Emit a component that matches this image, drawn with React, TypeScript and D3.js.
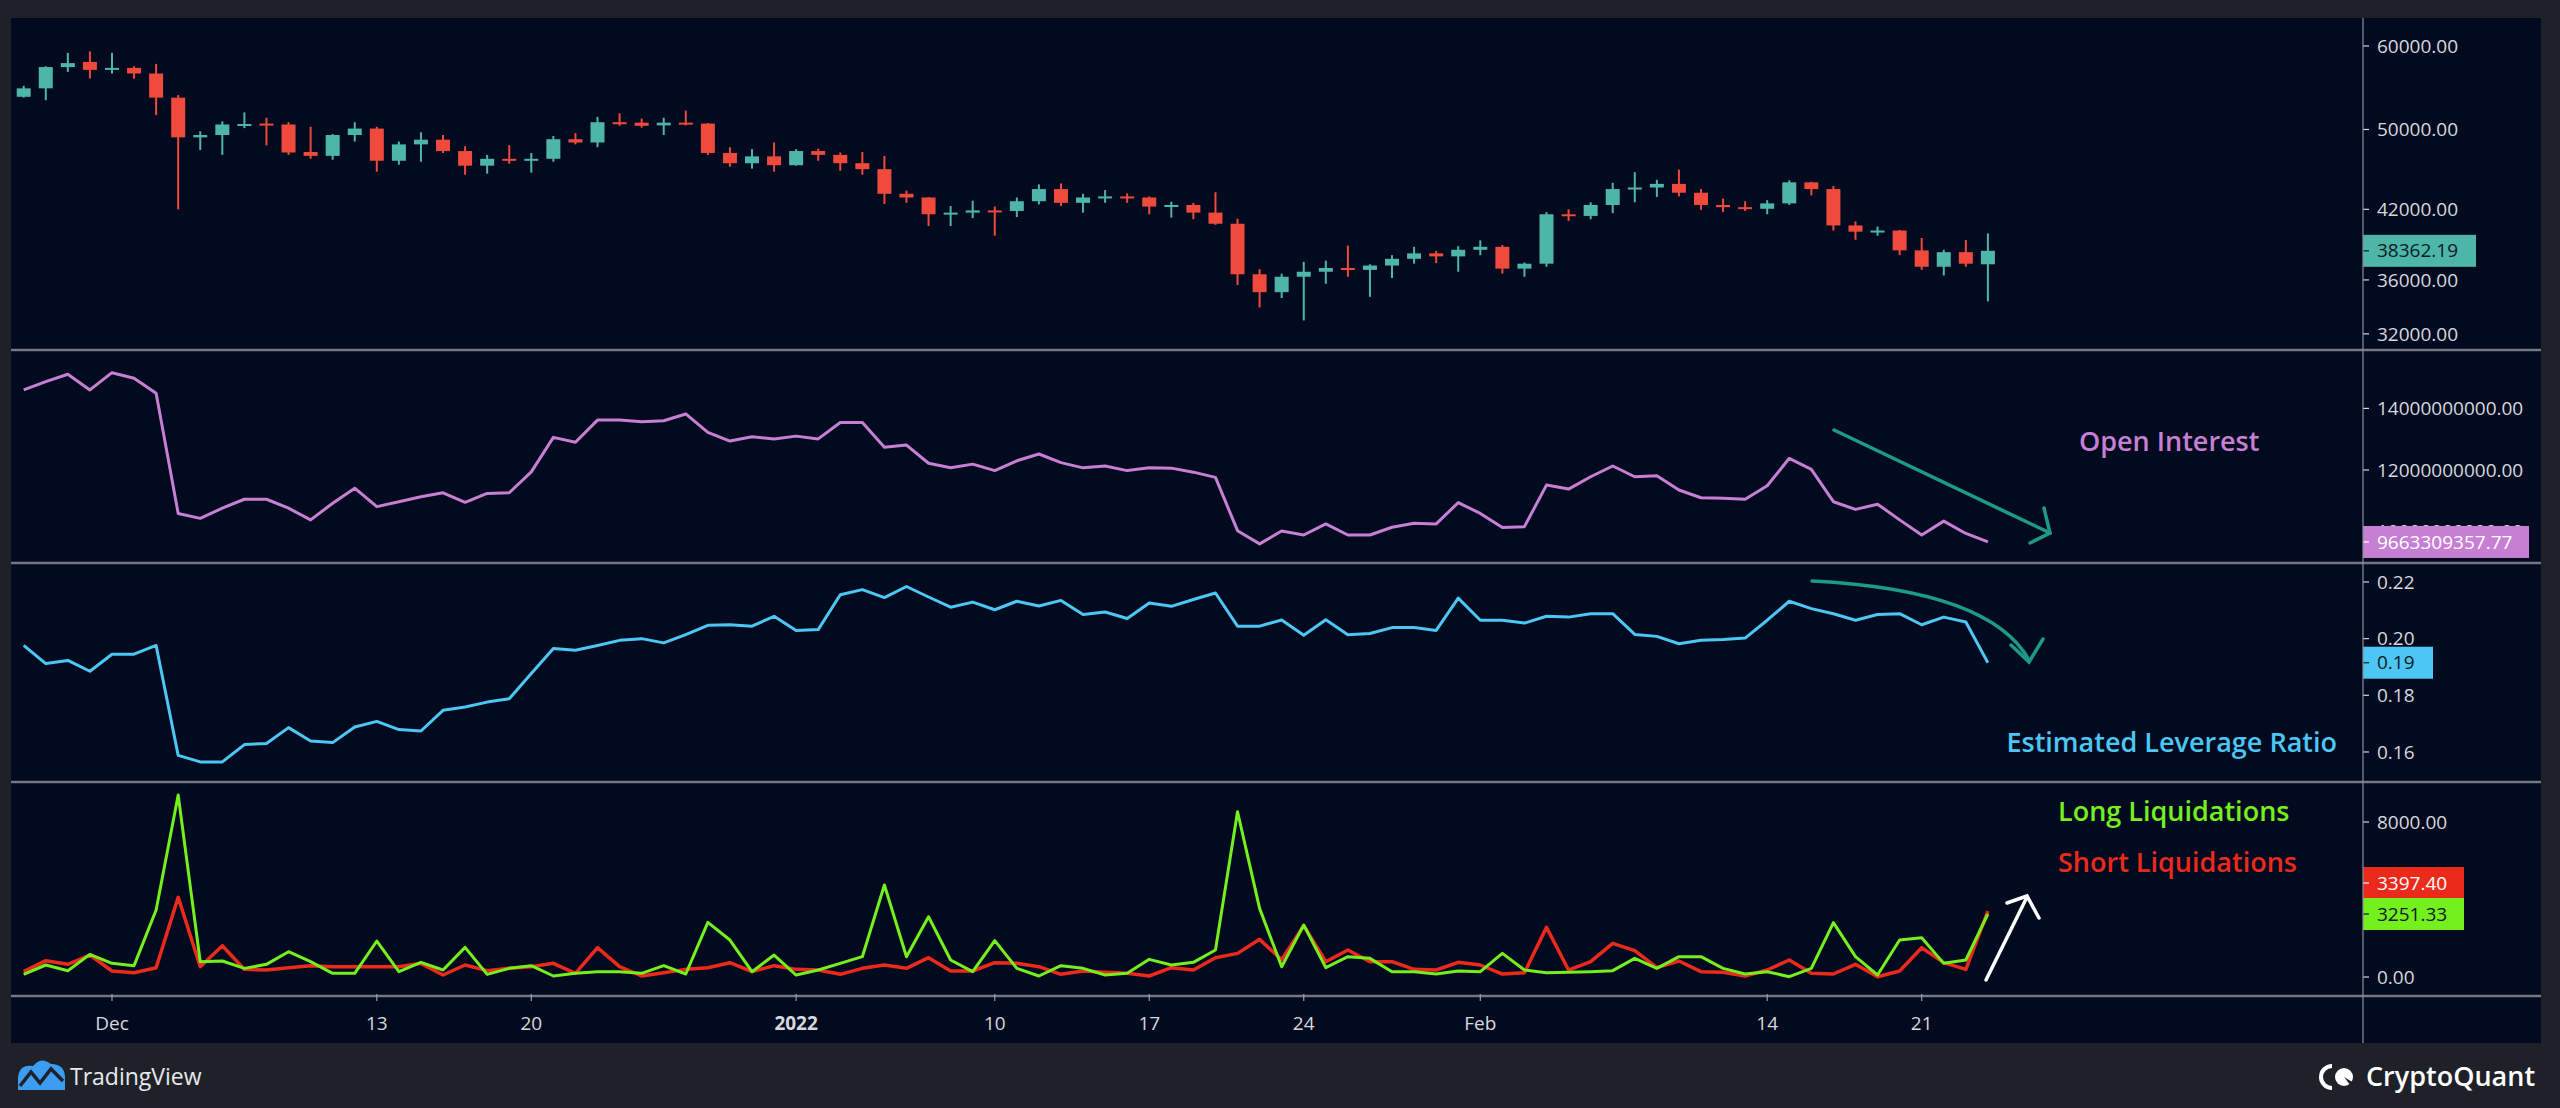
import * as d3 from "d3";
import { useEffect } from "react";

// daily bars, 27 Nov 2021 .. 24 Feb 2022
const firstDay = new Date(Date.UTC(2021, 10, 27));
const days = d3.utcDay.range(firstDay, d3.utcDay.offset(firstDay, 90));

const opens = [
  53700, 54700, 57300, 57950, 56950, 57200, 56500, 53600, 49150, 49400,
  50500, 50650, 50550, 47600, 47200, 49400, 50100, 46700, 48400, 48900,
  47700, 46200, 46900, 46700, 46900, 48950, 48600, 50800, 50750, 50450,
  50750, 50650, 47500, 46450, 47150, 46250, 47700, 47300, 46450, 45850,
  43450, 43100, 41550, 41700, 41900, 41850, 42750, 43900, 42600, 43100,
  43200, 43100, 42250, 42400, 41700, 40700, 36450, 35050, 36250, 36650,
  36950, 36800, 37150, 37700, 38150, 37900, 38450, 38700, 36900, 37300,
  41550, 41400, 42400, 43950, 44050, 44400, 43550, 42400, 42200, 42050,
  42550, 44550, 43900, 40550, 40000, 40100, 38400, 37050, 38250, 37250
];
const highs = [
  55000, 57400, 59100, 59300, 59100, 57400, 57700, 53900, 49800, 50900,
  51900, 51300, 50800, 50300, 49500, 50800, 50300, 48700, 49700, 49400,
  48200, 47300, 48300, 47500, 49300, 49600, 51400, 51800, 51200, 51300,
  52100, 50700, 48100, 47900, 48600, 47900, 47950, 47550, 47600, 47200,
  43750, 43150, 42300, 42800, 42250, 43100, 44350, 44450, 43450, 43800,
  43500, 43200, 42700, 42600, 43600, 41150, 36850, 36500, 37450, 37550,
  38800, 37250, 38000, 38700, 38350, 38750, 39250, 38850, 37400, 41750,
  42000, 42650, 44500, 45550, 44800, 45800, 43900, 43000, 42750, 42850,
  44750, 44600, 44200, 40900, 40450, 40150, 39450, 38450, 39280, 39850
];
const lows = [
  53600, 53300, 56700, 55900, 56500, 55850, 51600, 42000, 47800, 47300,
  50150, 48300, 47300, 46900, 46800, 48700, 45600, 46300, 46600, 47500,
  45300, 45400, 46400, 45500, 46600, 48400, 48100, 50400, 50200, 49400,
  50450, 47300, 46100, 45900, 45600, 46200, 46700, 45700, 45300, 42500,
  42600, 40500, 40500, 41200, 39650, 41300, 42450, 42300, 41700, 42600,
  42600, 41550, 41250, 41100, 40600, 35600, 33900, 34600, 32950, 35700,
  36250, 34700, 36150, 37300, 37350, 36650, 38000, 36500, 36250, 37050,
  40950, 41100, 41650, 42650, 43150, 43200, 41950, 41750, 41850, 41550,
  42400, 43300, 40100, 39300, 39650, 38000, 36800, 36350, 37050, 34350
];
const closes = [
  54700, 57300, 57800, 56950, 57200, 56500, 53600, 49150, 49400, 50550,
  50600, 50550, 47550, 47200, 49400, 50100, 46700, 48400, 48900, 47700,
  46200, 46900, 46700, 46900, 48950, 48600, 50800, 50700, 50400, 50750,
  50650, 47500, 46450, 47150, 46250, 47700, 47300, 46450, 45850, 43450,
  43100, 41550, 41700, 41900, 41850, 42750, 43900, 42600, 43100, 43200,
  43100, 42250, 42400, 41700, 40700, 36450, 35050, 36250, 36650, 36950,
  36800, 37150, 37700, 38150, 37900, 38450, 38700, 36900, 37300, 41550,
  41400, 42400, 43900, 44050, 44400, 43550, 42400, 42200, 42050, 42550,
  44550, 43900, 40550, 40000, 40100, 38400, 37050, 38250, 37300, 38362.19
];

// open interest, billions USD
const openInterest = [
  14.6, 14.87, 15.11, 14.6, 15.16, 14.98, 14.49, 10.59, 10.43, 10.76,
  11.05, 11.05, 10.76, 10.38, 10.92, 11.41, 10.81, 10.97, 11.13, 11.26,
  10.95, 11.24, 11.26, 11.94, 13.06, 12.9, 13.62, 13.62, 13.57, 13.6,
  13.82, 13.22, 12.94, 13.08, 13.01, 13.1, 13.01, 13.54, 13.54, 12.74,
  12.81, 12.22, 12.07, 12.19, 11.98, 12.3, 12.52, 12.24, 12.07, 12.13,
  11.98, 12.07, 12.06, 11.93, 11.76, 10.03, 9.6, 10.02, 9.89, 10.25,
  9.89, 9.89, 10.14, 10.27, 10.25, 10.94, 10.59, 10.13, 10.16, 11.51,
  11.38, 11.78, 12.13, 11.78, 11.81, 11.35, 11.1, 11.08, 11.05, 11.49,
  12.38, 12.02, 10.97, 10.72, 10.89, 10.38, 9.89, 10.34, 9.94, 9.66330935777
];

const leverageRatio = [
  0.1976, 0.1912, 0.1923, 0.1885, 0.1945, 0.1945, 0.1976, 0.1588, 0.1565, 0.1565,
  0.1626, 0.163, 0.1686, 0.1639, 0.1633, 0.1688, 0.1708, 0.1679, 0.1674, 0.1747,
  0.1759, 0.1776, 0.1788, 0.1877, 0.1965, 0.1959, 0.1976, 0.1994, 0.2, 0.1985,
  0.2014, 0.2047, 0.2049, 0.2044, 0.2079, 0.2029, 0.2032, 0.2155, 0.2173, 0.2145,
  0.2184, 0.2147, 0.2111, 0.2129, 0.2102, 0.2132, 0.2115, 0.2135, 0.2085, 0.2094,
  0.2071, 0.2126, 0.2114, 0.2138, 0.2161, 0.2044, 0.2044, 0.2066, 0.2012, 0.2067,
  0.2014, 0.2018, 0.2039, 0.2039, 0.2029, 0.2143, 0.2065, 0.2065, 0.2055, 0.2079,
  0.2076, 0.2088, 0.2088, 0.2015, 0.2008, 0.1982, 0.1994, 0.1997, 0.2002, 0.2065,
  0.2132, 0.2106, 0.2088, 0.2065, 0.2085, 0.2088, 0.2049, 0.2076, 0.2059, 0.1915
];

const longLiquidations = [
  138, 620, 327, 1170, 705, 585, 3457, 9390, 791, 826,
  447, 654, 1307, 791, 189, 189, 1858, 275, 757, 361,
  1531, 138, 447, 585, 52, 189, 275, 275, 189, 585,
  155, 2822, 1909, 275, 1135, 103, 361, 705, 1049, 4747,
  1049, 3113, 877, 275, 1875, 447, 52, 585, 447, 103,
  189, 912, 620, 757, 1393, 8530, 3543, 530, 2683, 482,
  1049, 963, 275, 275, 155, 310, 275, 1221, 361, 224,
  241, 275, 327, 963, 447, 1049, 1049, 447, 155, 275,
  17, 447, 2804, 1049, 103, 1909, 2030, 705, 877, 3251.33
];
const shortLiquidations = [
  275, 843, 654, 1135, 310, 224, 482, 4112, 533, 1617,
  395, 361, 482, 585, 533, 533, 533, 533, 705, 103,
  620, 327, 447, 533, 705, 189, 1514, 533, 52, 224,
  395, 482, 740, 275, 585, 395, 361, 138, 447, 620,
  447, 998, 310, 310, 740, 705, 533, 138, 310, 241,
  189, 52, 482, 361, 998, 1221, 1944, 895, 2650, 791,
  1393, 791, 791, 395, 361, 757, 620, 155, 224, 2563,
  361, 791, 1737, 1359, 482, 826, 275, 241, 52, 361,
  877, 189, 155, 654, 17, 310, 1514, 740, 395, 3397.4
];

const priceTicks = [60000, 50000, 42000, 36000, 32000];
const openInterestTicks = [14, 12, 10];
const leverageTicks = [0.22, 0.2, 0.18, 0.16];
const liquidationTicks = [8000, 0];
const timeTicks: [string, string][] = [
  ["2021-12-01", "Dec"],
  ["2021-12-13", "13"],
  ["2021-12-20", "20"],
  ["2022-01-01", "2022"],
  ["2022-01-10", "10"],
  ["2022-01-17", "17"],
  ["2022-01-24", "24"],
  ["2022-02-01", "Feb"],
  ["2022-02-14", "14"],
  ["2022-02-21", "21"]
];

const W = 2560;
const H = 1108;
const plotLeft = 11;
const plotRight = 2541;
const axisX = 2363;
const pricePane = [18, 350];
const oiPane = [350, 563];
const levPane = [563, 782];
const liqPane = [782, 996];
const timeBottom = 1043;

const frame = "#1f2129";
const navy = "#020a1f";
const sep = "#737785";
const axisText = "#d6d8de";
const up = "#4db6a9";
const down = "#ef4a3b";
const purple = "#c77fd3";
const cyan = "#4cc6f2";
const green = "#74f01e";
const red = "#ec2a1c";
const arrowTeal = "#1c9a86";
const font = "'Open Sans', 'DejaVu Sans', sans-serif";

const x = d3.scaleUtc().domain([days[0], days[days.length - 1]]).range([23.7, 1987.9]);
const yPrice = d3.scaleLog().domain([30893, 63780]).range([pricePane[1], pricePane[0]]);
const yOI = d3.scaleLinear().domain([8.98, 15.864]).range([563, 351]);
const yLev = d3.scaleLinear().domain([0.1494, 0.2267]).range([782, 563]);
const yLiq = d3.scaleLinear().domain([-980, 10065]).range([996, 782]);

const fmt2 = d3.format(".2f");

function seriesPath(values: number[], y: (v: number) => number): string {
  return (
    d3
      .line<number>()
      .x((_, i) => x(days[i]))
      .y((v) => y(v))(values) ?? ""
  );
}

function AxisTicks({
  ticks,
  y,
  label
}: {
  ticks: number[];
  y: (v: number) => number;
  label: (v: number) => string;
}) {
  return (
    <g>
      {ticks.map((t) => (
        <g key={t}>
          <line x1={axisX} x2={axisX + 6} y1={y(t)} y2={y(t)} stroke={axisText} strokeWidth={1.2} />
          <text
            x={axisX + 14}
            y={y(t)}
            dy="0.35em"
            fill={axisText}
            fontSize={19}
            fontFamily={font}
          >
            {label(t)}
          </text>
        </g>
      ))}
    </g>
  );
}

function ValueTag({
  y,
  width,
  bg,
  color,
  text
}: {
  y: number;
  width: number;
  bg: string;
  color: string;
  text: string;
}) {
  return (
    <g>
      <rect x={axisX} y={y - 16} width={width} height={32} fill={bg} />
      <line x1={axisX} x2={axisX + 6} y1={y} y2={y} stroke={color} strokeWidth={1.2} />
      <text x={axisX + 14} y={y} dy="0.35em" fill={color} fontSize={19} fontFamily={font}>
        {text}
      </text>
    </g>
  );
}

function Candles() {
  const bodyW = 14;
  return (
    <g>
      {days.map((d, i) => {
        const cx = x(d);
        const o = opens[i];
        const c = closes[i];
        const col = c >= o ? up : down;
        const top = yPrice(Math.max(o, c));
        const bot = yPrice(Math.min(o, c));
        return (
          <g key={i}>
            <line x1={cx} x2={cx} y1={yPrice(highs[i])} y2={yPrice(lows[i])} stroke={col} strokeWidth={2} />
            <rect x={cx - bodyW / 2} y={top} width={bodyW} height={Math.max(2, bot - top)} fill={col} />
          </g>
        );
      })}
    </g>
  );
}

export default function App() {
  useEffect(() => {
    document.body.style.margin = "0";
  }, []);

  const lastLong = longLiquidations[longLiquidations.length - 1];
  const lastShort = shortLiquidations[shortLiquidations.length - 1];
  const greenTagY = yLiq(lastLong);
  const lastOI = openInterest[openInterest.length - 1];

  return (
    <div style={{ position: "absolute", left: 0, top: 0 }}>
      <svg width={W} height={H} viewBox={`0 0 ${W} ${H}`} style={{ display: "block" }}>
        <defs>
          <clipPath id="oi-hidden">
            <rect x={axisX} y={oiPane[0]} width={plotRight - axisX} height={yOI(lastOI) - 16 - oiPane[0]} />
          </clipPath>
        </defs>
        <rect x={0} y={0} width={W} height={H} fill={frame} />
        <rect x={plotLeft} y={pricePane[0]} width={plotRight - plotLeft} height={timeBottom - pricePane[0]} fill={navy} />

        {/* price pane */}
        <Candles />
        <AxisTicks ticks={priceTicks} y={yPrice} label={fmt2} />
        <ValueTag y={yPrice(closes[closes.length - 1])} width={113} bg={up} color="#0c1a24" text={fmt2(closes[closes.length - 1])} />

        {/* open interest pane */}
        <path d={seriesPath(openInterest, yOI)} fill="none" stroke={purple} strokeWidth={3} strokeLinejoin="round" />
        <g clipPath="url(#oi-hidden)">
          <AxisTicks ticks={openInterestTicks} y={yOI} label={(v) => (v * 1e9).toFixed(2)} />
        </g>
        <ValueTag y={yOI(lastOI)} width={166} bg={purple} color="#ffffff" text={(lastOI * 1e9).toFixed(2)} />
        <text x={2079} y={442} dy="0.35em" fill={purple} fontSize={27} fontWeight={600} fontFamily={font}>
          Open Interest
        </text>
        <g stroke={arrowTeal} strokeWidth={3.5} fill="none" strokeLinecap="round">
          <path d="M1834 430 L2050 533" />
          <path d="M2044 508 L2050 533 L2030 543" />
        </g>

        {/* leverage pane */}
        <path d={seriesPath(leverageRatio, yLev)} fill="none" stroke={cyan} strokeWidth={3} strokeLinejoin="round" />
        <AxisTicks ticks={leverageTicks} y={yLev} label={fmt2} />
        <ValueTag y={yLev(leverageRatio[leverageRatio.length - 1])} width={70} bg={cyan} color="#0c1a24" text={fmt2(leverageRatio[leverageRatio.length - 1])} />
        <text x={2337} y={743} dy="0.35em" textAnchor="end" fill={cyan} fontSize={27} fontWeight={600} fontFamily={font}>
          Estimated Leverage Ratio
        </text>
        <g stroke={arrowTeal} strokeWidth={3.5} fill="none" strokeLinecap="round">
          <path d="M1812 581 Q1990 590 2029 660" />
          <path d="M2011 645 L2029 662 L2043 639" />
        </g>

        {/* liquidations pane */}
        <path d={seriesPath(shortLiquidations, yLiq)} fill="none" stroke={red} strokeWidth={3.5} strokeLinejoin="round" />
        <path d={seriesPath(longLiquidations, yLiq)} fill="none" stroke={green} strokeWidth={3} strokeLinejoin="round" />
        <AxisTicks ticks={liquidationTicks} y={yLiq} label={fmt2} />
        <ValueTag y={greenTagY - 31} width={101} bg={red} color="#ffffff" text={fmt2(lastShort)} />
        <ValueTag y={greenTagY} width={101} bg={green} color="#0c1a24" text={fmt2(lastLong)} />
        <text x={2058} y={812} dy="0.35em" fill={green} fontSize={27} fontWeight={600} fontFamily={font}>
          Long Liquidations
        </text>
        <text x={2058} y={863} dy="0.35em" fill={red} fontSize={27} fontWeight={600} fontFamily={font}>
          Short Liquidations
        </text>
        <g stroke="#ffffff" strokeWidth={3.5} fill="none" strokeLinecap="round">
          <path d="M1986 980 L2027 897" />
          <path d="M2007 903 L2027 896 L2039 918" />
        </g>

        {/* separators and axis line */}
        {[pricePane[1], oiPane[1], levPane[1], liqPane[1]].map((y) => (
          <line key={y} x1={plotLeft} x2={plotRight} y1={y} y2={y} stroke={sep} strokeWidth={2.5} />
        ))}
        <line x1={axisX} x2={axisX} y1={pricePane[0]} y2={timeBottom} stroke="#8a8e99" strokeWidth={1.2} />

        {/* time axis */}
        {timeTicks.map(([iso, label]) => {
          const tx = x(new Date(iso + "T00:00:00Z"));
          return (
            <g key={iso}>
              <line x1={tx} x2={tx} y1={994} y2={1001} stroke="#9a9ea8" strokeWidth={1.2} />
              <text
                x={tx}
                y={1023}
                dy="0.35em"
                textAnchor="middle"
                fill={axisText}
                fontSize={19}
                fontWeight={label === "2022" ? 700 : 400}
                fontFamily={font}
              >
                {label}
              </text>
            </g>
          );
        })}

        {/* logos */}
        <g>
          <path d="M18 1090 L18 1078 Q19 1064 33 1066 Q41 1056 51 1064 Q65 1064 65 1078 L65 1090 Z" fill="#3c9cf0" />
          <path d="M20 1086 L31 1072 L40 1083 L51 1069 L63 1081" stroke={frame} strokeWidth={3.5} fill="none" />
          <text x={70} y={1077} dy="0.35em" fill="#e8e9ed" fontSize={23} fontFamily={font}>
            TradingView
          </text>
        </g>
        <g>
          <path d="M2332 1066 A11 11 0 0 0 2332 1088" stroke="#ffffff" strokeWidth={4} fill="none" />
          <circle cx={2344} cy={1077} r={9} fill="#ffffff" />
          <path d="M2344 1077 L2354 1083 L2354 1090 Z" fill={frame} />
          <text x={2366} y={1077} dy="0.35em" fill="#ffffff" fontSize={27} fontWeight={600} fontFamily={font}>
            CryptoQuant
          </text>
        </g>
      </svg>
    </div>
  );
}
